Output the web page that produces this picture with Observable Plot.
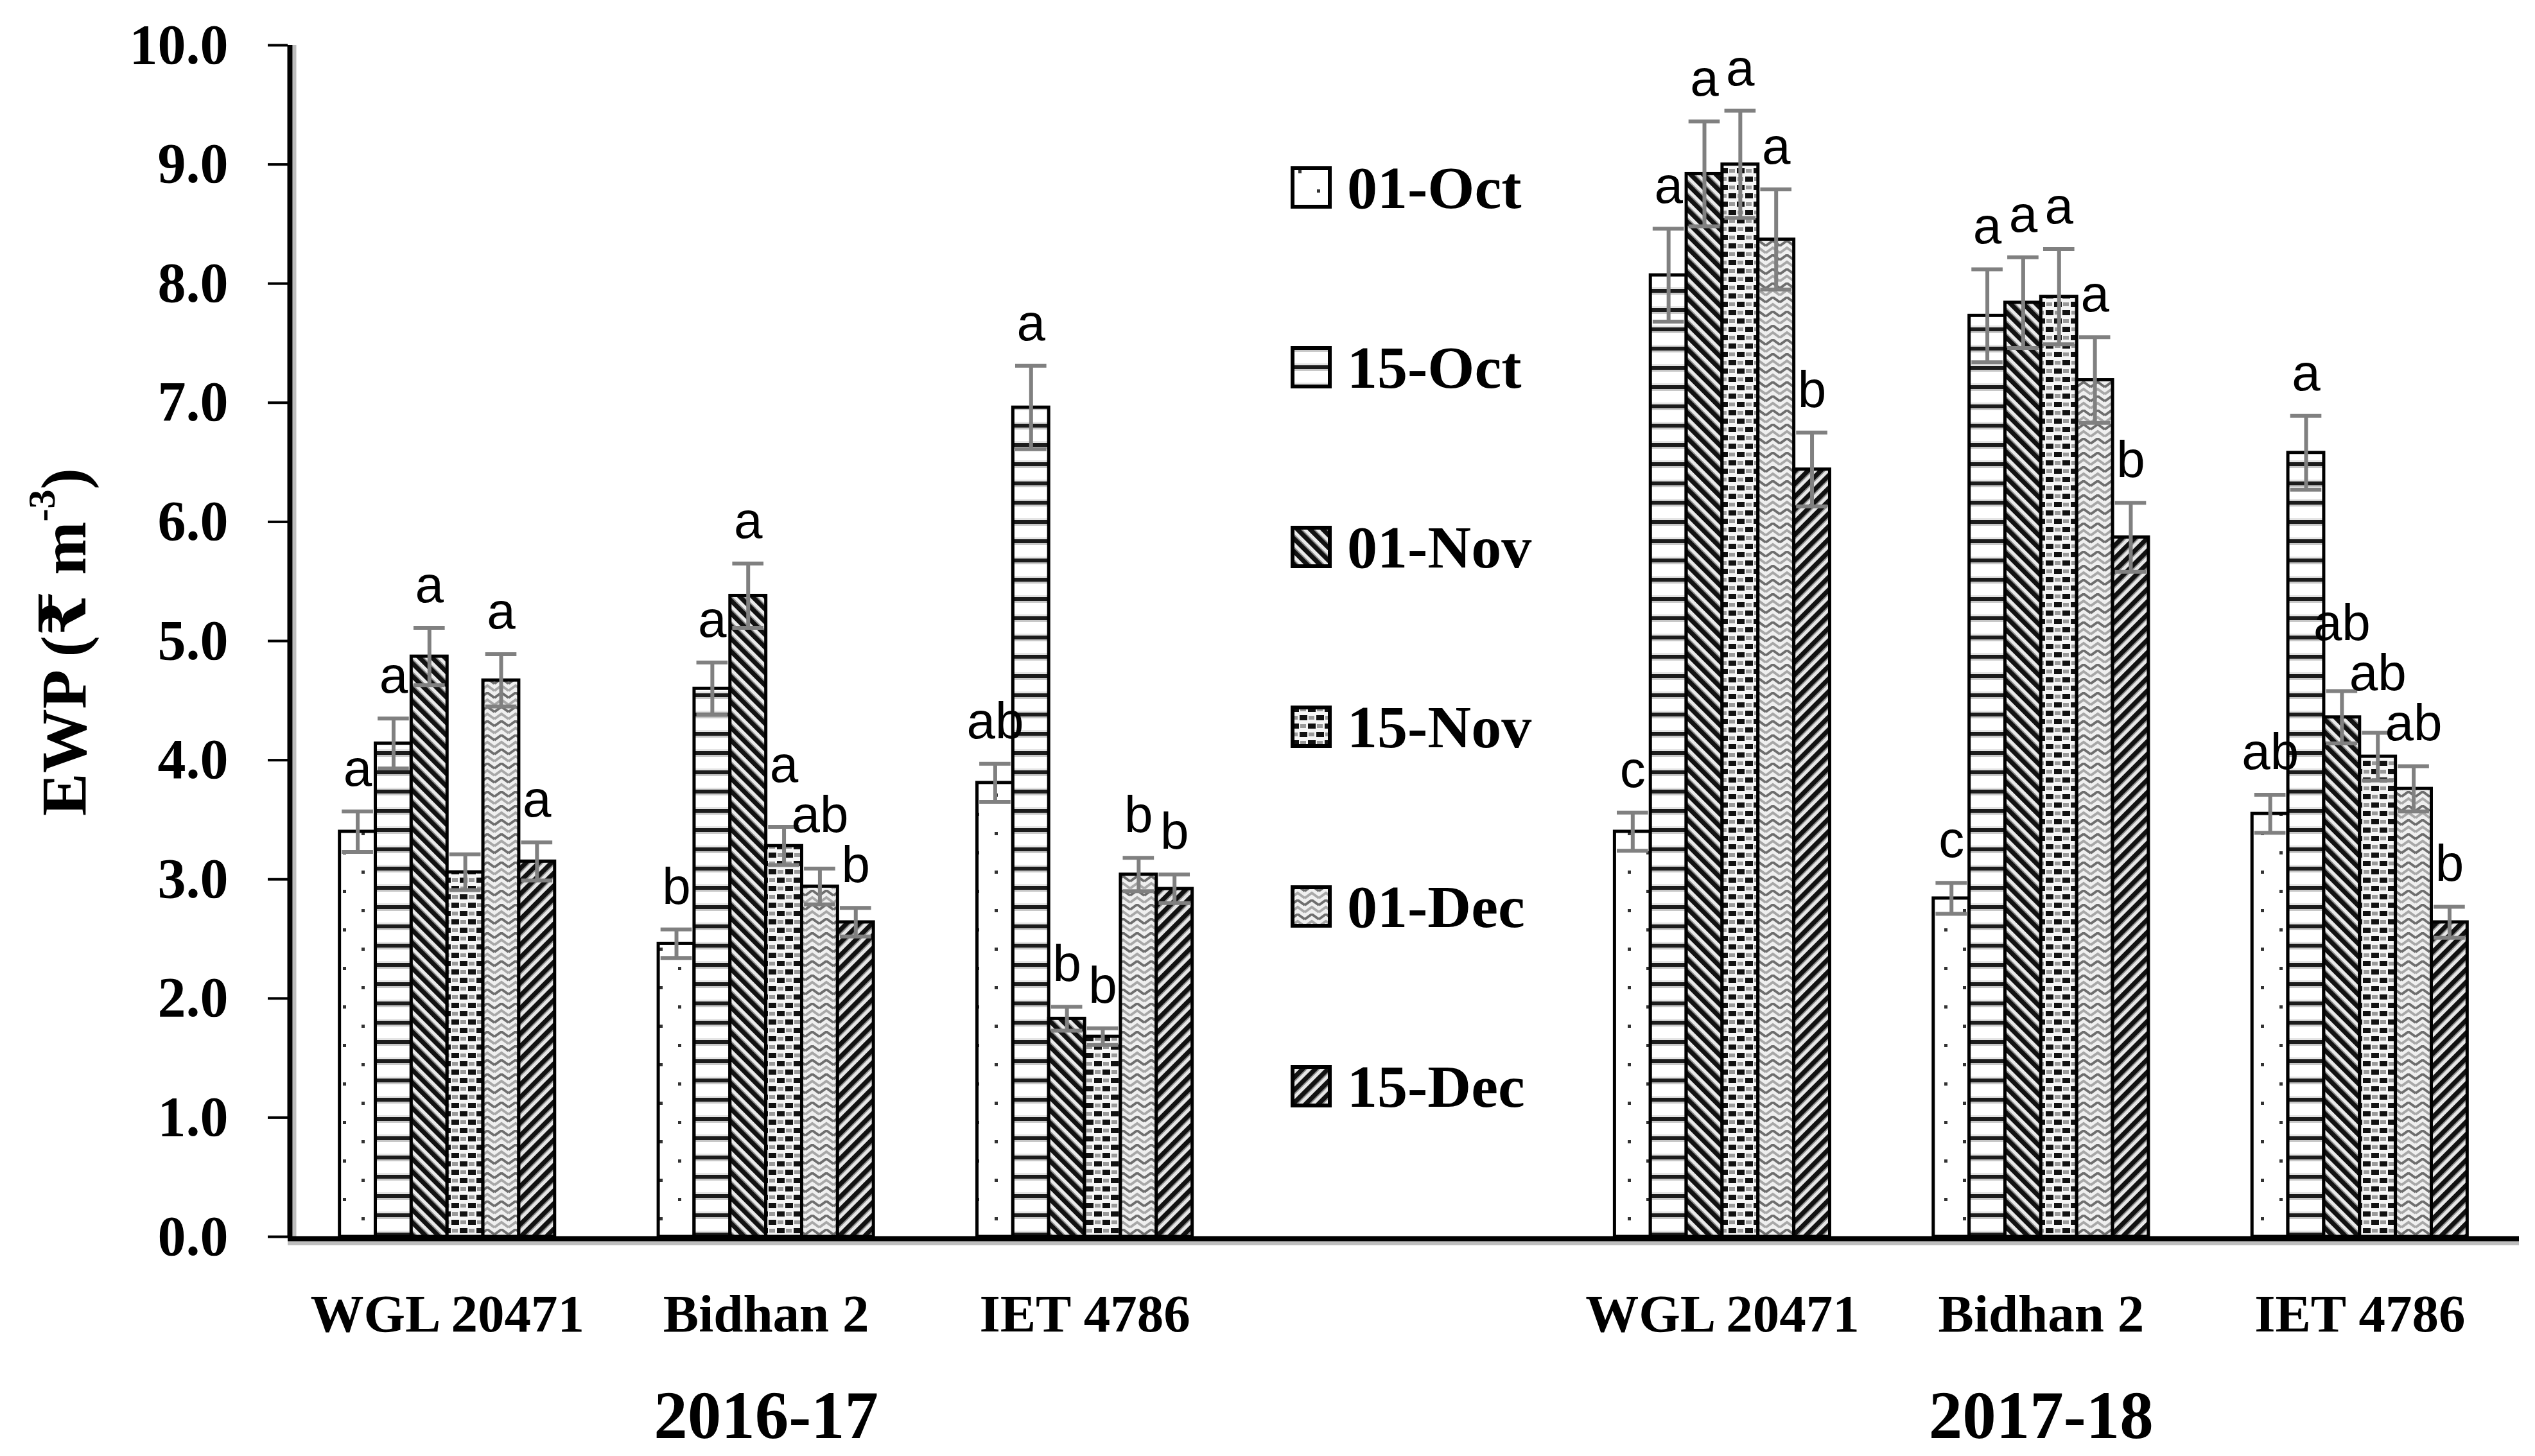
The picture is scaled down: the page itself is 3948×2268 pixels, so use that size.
<!DOCTYPE html>
<html>
<head>
<meta charset="utf-8">
<script src="https://cdn.jsdelivr.net/npm/d3@7"></script>
<script src="https://cdn.jsdelivr.net/npm/@observablehq/plot@0.6"></script>
<style>
  html, body { margin: 0; padding: 0; background: #fff; }
  #wrap { position: relative; width: 3948px; height: 2268px; overflow: hidden;
          font-family: "Liberation Serif", "DejaVu Serif", serif; font-weight: bold; color: #000; }
  #ytitle { position: absolute; left: 100px; top: 1000px; transform: translate(-50%, -50%) rotate(-90deg);
            white-space: nowrap; font-size: 100px; line-height: 1; }
  #ytitle sup { font-size: 0.6em; vertical-align: 0.8em; line-height: 0; }
  .lrow { position: absolute; left: 2010px; display: flex; align-items: center; white-space: nowrap;
          height: 100px; transform: translateY(-50%); }
  .lrow svg { margin-right: 24px; display: block; }
  .lrow span { font-size: 94px; }
  #wrap svg g[aria-label^="y-axis"] path, #wrap svg g[aria-label^="y-axis"] line { stroke-width: 4px; stroke: #000; }
  #wrap svg g[aria-label^="x-axis"] text { font-size: 83px; }
  #wrap svg g[aria-label^="y-axis"] text { font-size: 88px; }
</style>
</head>
<body>
<div id="wrap"></div>
<script>
// ---------------- data ----------------
const dates = ["01-Oct", "15-Oct", "01-Nov", "15-Nov", "01-Dec", "15-Dec"];
const seasons = ["2016-17", "2017-18"];
const cultivars = ["WGL 20471", "Bidhan 2", "IET 4786"];
const yTicks = [0, 1, 2, 3, 4, 5, 6, 7, 8, 9, 10];

// EWP values (₹ m-3), one array per season x cultivar, in the order of `dates`
const wgl2016    = [3.40, 4.14, 4.87, 3.06, 4.67, 3.15];
const bidhan2016 = [2.46, 4.60, 5.38, 3.28, 2.94, 2.64];
const iet2016    = [3.81, 6.96, 1.83, 1.68, 3.04, 2.92];
const wgl2017    = [3.40, 8.07, 8.92, 9.00, 8.37, 6.44];
const bidhan2017 = [2.84, 7.73, 7.84, 7.89, 7.19, 5.87];
const iet2017    = [3.55, 6.58, 4.36, 4.03, 3.76, 2.64];

// error bars
const wgl2016Err    = [0.17, 0.21, 0.24, 0.15, 0.22, 0.16];
const bidhan2016Err = [0.12, 0.22, 0.27, 0.16, 0.15, 0.12];
const iet2016Err    = [0.16, 0.35, 0.10, 0.07, 0.14, 0.12];
const wgl2017Err    = [0.16, 0.39, 0.44, 0.45, 0.42, 0.31];
const bidhan2017Err = [0.13, 0.39, 0.38, 0.40, 0.36, 0.29];
const iet2017Err    = [0.16, 0.31, 0.22, 0.20, 0.19, 0.13];

// significance letters
const wgl2016Sig    = ["a", "a", "a", "", "a", "a"];
const bidhan2016Sig = ["b", "a", "a", "a", "ab", "b"];
const iet2016Sig    = ["ab", "a", "b", "b", "b", "b"];
const wgl2017Sig    = ["c", "a", "a", "a", "a", "b"];
const bidhan2017Sig = ["c", "a", "a", "a", "a", "b"];
const iet2017Sig    = ["ab", "a", "ab", "ab", "ab", "b"];

// ---------------- table built from the arrays ----------------
const valueSets = [[wgl2016, bidhan2016, iet2016], [wgl2017, bidhan2017, iet2017]];
const errSets   = [[wgl2016Err, bidhan2016Err, iet2016Err], [wgl2017Err, bidhan2017Err, iet2017Err]];
const sigSets   = [[wgl2016Sig, bidhan2016Sig, iet2016Sig], [wgl2017Sig, bidhan2017Sig, iet2017Sig]];

// layout of the band positions (7 slots: 3 cultivars, an empty slot, 3 cultivars)
const slotsPerSeason = cultivars.length + 1;
const groupFrac = 0.675;
const barW = groupFrac / dates.length;
const capHalf = 0.049;
const xDomain = [-0.5, slotsPerSeason * seasons.length - 1.5];
const slotLabels = [];
seasons.forEach((s, si) => {
  cultivars.forEach((c, ci) => { slotLabels[si * slotsPerSeason + ci] = c; });
  if (si < seasons.length - 1) slotLabels[si * slotsPerSeason + cultivars.length] = "";
});
const slotTicks = slotLabels.map((l, i) => l ? i : null).filter(i => i !== null);

const rows = [];
seasons.forEach((s, si) => cultivars.forEach((c, ci) => dates.forEach((d, di) => {
  const slot = si * slotsPerSeason + ci;
  const x1 = slot - groupFrac / 2 + di * barW;
  const v = valueSets[si][ci][di], e = errSets[si][ci][di];
  rows.push({season: s, cultivar: c, date: d, di, x1, x2: x1 + barW, xc: x1 + barW / 2,
             value: v, lo: v - e, hi: v + e, letter: sigSets[si][ci][di]});
})));

// letter placement: start just above the error cap; lift a letter when it would collide
// with a lower neighbouring letter of the same group (simple layout pass in data units)
const letterCharW = 0.09;   // approx. width of one letter in x units
const minSep = 0.42;        // min vertical separation in y units
const labels = rows.filter(d => d.letter).map(d => ({...d, ly: d.hi}));
d3.groups(labels, d => d.season + "|" + d.cultivar).forEach(([, g]) => {
  const placed = [];
  g.slice().sort((a, b) => a.hi - b.hi).forEach(l => {
    placed.forEach(p => {
      const hw = (l.letter.length + p.letter.length) * letterCharW / 2;
      if (Math.abs(l.xc - p.xc) < hw && l.ly - p.ly < minSep) l.ly = p.ly + minSep;
    });
    placed.push(l);
  });
});

const yearRows = seasons.map((s, si) => ({year: s, x: si * slotsPerSeason + 1}));

const patternFill = dates.map((d, i) => `url(#pat${i})`);

// ---------------- chart ----------------
const plot = Plot.plot({
  width: 3948,
  height: 2268,
  marginLeft: 448,
  marginRight: 25,
  marginTop: 70,
  marginBottom: 342,
  style: {fontFamily: '"Liberation Serif", "DejaVu Serif", serif', fontWeight: "bold", fontSize: "88px",
          color: "#000", background: "transparent", overflow: "visible"},
  x: {domain: xDomain, ticks: slotTicks, tickFormat: i => slotLabels[i], tickSize: 0, tickPadding: 89, label: null},
  y: {domain: [0, 10], ticks: yTicks, tickFormat: d => d.toFixed(1), tickSize: 31, tickPadding: 62, label: null},
  color: {type: "identity"},
  marks: [
    Plot.rect(rows, {x1: "x1", x2: "x2", y1: d => 0, y2: "value",
                     fill: d => patternFill[d.di], stroke: "#000", strokeWidth: 5}),
    Plot.ruleX(rows, {x: "xc", y1: "lo", y2: "hi", stroke: "#808080", strokeWidth: 6}),
    Plot.ruleY(rows, {y: "hi", x1: d => d.xc - capHalf, x2: d => d.xc + capHalf, stroke: "#808080", strokeWidth: 6}),
    Plot.ruleY(rows, {y: "lo", x1: d => d.xc - capHalf, x2: d => d.xc + capHalf, stroke: "#808080", strokeWidth: 6}),
    Plot.text(labels, {x: "xc", y: "ly", text: "letter", lineAnchor: "bottom", dy: -40,
                     fontSize: 80, fontFamily: '"Liberation Sans", Arial, sans-serif', fontWeight: "normal", fill: "#000"}),
    Plot.ruleY([0], {stroke: "#bdbdbd", strokeWidth: 6, dy: 10}),
    Plot.ruleX([xDomain[0]], {stroke: "#bdbdbd", strokeWidth: 6, dx: 10}),
    Plot.ruleY([0], {stroke: "#000", strokeWidth: 8, dy: 3}),
    Plot.ruleX([xDomain[0]], {stroke: "#000", strokeWidth: 8, dx: 3}),
    Plot.text(yearRows, {x: "x", y: d => 0, text: "year", dy: 280, lineAnchor: "middle", fontSize: 105, fill: "#000"})
  ]
});

// pattern definitions (fills of the bars)
const defs = `
<defs>
  <pattern id="pat0" width="58" height="60" patternUnits="userSpaceOnUse">
    <rect width="58" height="60" fill="#fff"/>
    <rect x="12" y="6" width="5" height="5" fill="#333"/>
    <rect x="41" y="36" width="5" height="5" fill="#333"/>
  </pattern>
  <pattern id="pat1" width="10" height="30" patternUnits="userSpaceOnUse">
    <rect width="10" height="30" fill="#fff"/>
    <rect y="0" width="10" height="6" fill="#1c1c1c"/>
    <rect y="6" width="10" height="3" fill="#c8c8c8"/>
    <rect y="27" width="10" height="3" fill="#e4e4e4"/>
  </pattern>
  <pattern id="pat2" width="14" height="14" patternUnits="userSpaceOnUse" patternTransform="rotate(-45)">
    <rect width="14" height="14" fill="#eaeaea"/>
    <rect x="0" width="7" height="14" fill="#111"/>
    <rect x="7" width="2" height="14" fill="#8a8a8a"/>
  </pattern>
  <pattern id="pat3" width="26" height="26" patternUnits="userSpaceOnUse">
    <rect width="26" height="26" fill="#f6f6f6"/>
    <rect x="1" y="2" width="12" height="8" fill="#111"/>
    <rect x="14" y="15" width="12" height="8" fill="#111"/>
    <rect x="15" y="3" width="9" height="6" fill="#9a9a9a"/>
    <rect x="2" y="16" width="9" height="6" fill="#9a9a9a"/>
  </pattern>
  <pattern id="pat4" width="22" height="22" patternUnits="userSpaceOnUse">
    <rect width="22" height="22" fill="#f0f0f0"/>
    <path d="M0,9 L11,1 L22,9" fill="none" stroke="#6e6e6e" stroke-width="4"/>
    <path d="M0,20 L11,12 L22,20" fill="none" stroke="#a8a8a8" stroke-width="4"/>
  </pattern>
  <pattern id="pat5" width="14" height="14" patternUnits="userSpaceOnUse" patternTransform="rotate(45)">
    <rect width="14" height="14" fill="#e6e6e6"/>
    <rect x="0" width="7" height="14" fill="#111"/>
    <rect x="7" width="2" height="14" fill="#8a8a8a"/>
  </pattern>
</defs>`;
plot.insertAdjacentHTML("afterbegin", defs);

const wrap = document.getElementById("wrap");
wrap.appendChild(plot);

// y-axis title
const yt = document.createElement("div");
yt.id = "ytitle";
yt.innerHTML = "EWP (₹ m<sup>-3</sup>)";
wrap.appendChild(yt);

// legend
dates.forEach((d, i) => {
  const row = document.createElement("div");
  row.className = "lrow";
  row.style.top = (292 + i * 280) + "px";
  row.innerHTML = `<svg width="64" height="66"><rect x="3" y="3" width="58" height="60" fill="${patternFill[i]}" stroke="#000" stroke-width="6"/></svg><span>${d}</span>`;
  wrap.appendChild(row);
});
</script>
</body>
</html>
